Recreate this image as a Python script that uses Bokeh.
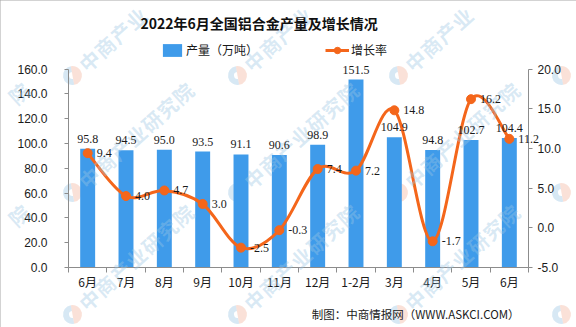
import math
import numpy as np
from bokeh.plotting import figure
from bokeh.models import (Range1d, LinearAxis, FixedTicker, NumeralTickFormatter,
                          ColumnDataSource, LabelSet, Label, Legend, LegendItem)
from bokeh.embed import file_html
from bokeh.resources import INLINE

months = ["6月", "7月", "8月", "9月", "10月", "11月", "12月", "1-2月", "3月", "4月", "5月", "6月"]
output = [95.8, 94.5, 95.0, 93.5, 91.1, 90.6, 98.9, 151.5, 104.9, 94.8, 102.7, 104.4]
growth = [9.4, 4.0, 4.7, 3.0, -2.5, -0.3, 7.4, 7.2, 14.8, -1.7, 16.2, 11.2]
left_ticks = [0, 20, 40, 60, 80, 100, 120, 140, 160]
right_ticks = [-5, 0, 5, 10, 15, 20]

BLUE = "#3F9BEA"
ORANGE = "#F4661B"
AXIS = "#8C8C8C"
NUM_FONT = "Liberation Sans"
CJK_FONT = "Noto Sans CJK SC"

W, H = 576, 327
AXES_LEFT = 68.0           # canvas x of the left axis
AXES_RIGHT = 528.0         # canvas x of the right axis
AXES_BOTTOM = 267.0        # canvas y of value 0 / -5
AXIS_PIX = 198.5           # pixel length of the 0..160 axis

xs = list(range(len(months)))
x0r, x1r = -0.5, len(months) - 0.5
lmin, lmax = left_ticks[0], left_ticks[-1]
rmin, rmax = right_ticks[0], right_ticks[-1]

# the frame covers the whole canvas; the axes are fixed inside it
xppu = (AXES_RIGHT - AXES_LEFT) / (x1r - x0r)
lppu = AXIS_PIX / (lmax - lmin)
rppu = AXIS_PIX / (rmax - rmin)

p = figure(width=W, height=H, output_backend="svg", toolbar_location=None,
           x_range=Range1d(x0r - AXES_LEFT / xppu, x0r + (W - AXES_LEFT) / xppu),
           y_range=Range1d(lmin - (H - AXES_BOTTOM) / lppu, lmin + AXES_BOTTOM / lppu),
           min_border_left=0, min_border_right=0, min_border_top=0, min_border_bottom=0,
           styles={"outline": "1px solid #A6A6A6", "outline-offset": "-1px"})
p.extra_y_ranges = {"g": Range1d(rmin - (H - AXES_BOTTOM) / rppu, rmin + AXES_BOTTOM / rppu)}
p.outline_line_color = None
p.grid.visible = False
p.background_fill_color = "white"
p.border_fill_color = "white"


def to_data(px, py):
    return x0r + (px - AXES_LEFT) / xppu, lmin + (AXES_BOTTOM - py) / lppu


# ---- watermark (decoration, drawn first); only whole characters are kept ----
WM_TEXT = "中商产业研究院"
WM_COLS = [-92, 72, 237, 398, 561]
WM_ROWS = [75, 192, 314]
WM_ANGLE = math.radians(42)
WM_FS = 20
WM_STEP = 21
WM_MARGIN = 12
ca, sa = math.cos(WM_ANGLE), math.sin(WM_ANGLE)
wm_x, wm_y = [], []
for cy in WM_ROWS:
    for cx in WM_COLS:
        dx, dy = to_data(cx, cy)
        wm_x.append(dx)
        wm_y.append(dy)
        for i, ch in enumerate(WM_TEXT):
            d = 12 + (i + 0.5) * WM_STEP
            px, py = cx + d * ca, cy - d * sa
            if WM_MARGIN <= px <= W - WM_MARGIN and WM_MARGIN <= py <= H - WM_MARGIN:
                p.add_layout(Label(x=px, y=H - py, x_units="screen", y_units="screen",
                                   text=ch, angle=WM_ANGLE, text_align="center",
                                   text_baseline="middle", text_font=CJK_FONT,
                                   text_font_size="%dpx" % WM_FS, text_font_style="bold",
                                   text_color="#9CC6E4", text_alpha=0.38))
p.annular_wedge(x=wm_x, y=wm_y, inner_radius=3.5, outer_radius=9.5,
                inner_radius_units="screen", outer_radius_units="screen",
                start_angle=math.radians(100), end_angle=math.radians(280),
                fill_color="#9CC6E4", fill_alpha=0.4, line_color=None)
p.annular_wedge(x=wm_x, y=wm_y, inner_radius=0, outer_radius=9.5,
                inner_radius_units="screen", outer_radius_units="screen",
                start_angle=math.radians(-80), end_angle=math.radians(100),
                fill_color="#F2A990", fill_alpha=0.35, line_color=None)

# x axis
xa = p.xaxis[0]
xa.fixed_location = lmin
xa.ticker = FixedTicker(ticks=xs, minor_ticks=[i - 0.5 for i in range(len(months) + 1)])
xa.bounds = (x0r, x1r)
xa.major_label_overrides = {i: m for i, m in enumerate(months)}
xa.major_tick_in = 0
xa.major_tick_out = 0
xa.minor_tick_in = 0
xa.minor_tick_out = 5
xa.minor_tick_line_color = AXIS
xa.axis_line_color = AXIS
xa.major_label_text_font = CJK_FONT
xa.major_label_text_font_size = "12px"
xa.major_label_text_color = "#1a1a1a"
xa.major_label_standoff = 0

# left axis
ya = p.yaxis[0]
ya.fixed_location = x0r
ya.ticker = FixedTicker(ticks=left_ticks, minor_ticks=[])
ya.formatter = NumeralTickFormatter(format="0.0")
ya.bounds = (lmin, lmax)
ya.major_tick_in = 0
ya.major_tick_out = 4
ya.major_tick_line_color = AXIS
ya.axis_line_color = AXIS
ya.major_label_text_font = NUM_FONT
ya.major_label_text_font_size = "12px"
ya.major_label_text_color = "#1a1a1a"
ya.major_label_standoff = 17

# right axis, fixed at the right end of the category range
ra = LinearAxis(y_range_name="g", ticker=FixedTicker(ticks=right_ticks, minor_ticks=[]),
                formatter=NumeralTickFormatter(format="0.0"), bounds=(rmin, rmax),
                fixed_location=x1r)
ra.major_tick_in = 0
ra.major_tick_out = 4
ra.major_tick_line_color = AXIS
ra.axis_line_color = AXIS
ra.major_label_text_font = NUM_FONT
ra.major_label_text_font_size = "12px"
ra.major_label_text_color = "#1a1a1a"
ra.major_label_standoff = 5
p.add_layout(ra, "right")

# bars
src = ColumnDataSource(dict(x=xs, out=output, g=growth,
                            out_lbl=["%.1f" % v for v in output],
                            g_lbl=["%.1f" % v for v in growth]))
bars = p.vbar(x="x", top="out", bottom=lmin, width=0.39, source=src,
              fill_color=BLUE, line_color=None)

# legend proxies (single point: draws nothing in the plot)
leg_line = p.line(x=xs[:1], y=growth[:1], line_color=ORANGE, line_width=3, y_range_name="g")
leg_dot = p.scatter(x=xs[:1], y=growth[:1], size=7, fill_color=ORANGE, line_color=ORANGE,
                    y_range_name="g")

# smooth growth line (Catmull-Rom bezier through the data points)
gx = np.array(xs, dtype=float)
gy = np.array(growth, dtype=float)
n = len(gx)
PX = np.concatenate([[gx[0]], gx, [gx[-1]]])
PY = np.concatenate([[gy[0]], gy, [gy[-1]]])
t = 1.0 / 6.0
bez = dict(
    x0=PX[1:n], y0=PY[1:n], x1=PX[2:n + 1], y1=PY[2:n + 1],
    cx0=PX[1:n] + (PX[2:n + 1] - PX[0:n - 1]) * t,
    cy0=PY[1:n] + (PY[2:n + 1] - PY[0:n - 1]) * t,
    cx1=PX[2:n + 1] - (PX[3:n + 2] - PX[1:n]) * t,
    cy1=PY[2:n + 1] - (PY[3:n + 2] - PY[1:n]) * t,
)
p.bezier(source=ColumnDataSource(bez), x0="x0", y0="y0", x1="x1", y1="y1",
         cx0="cx0", cy0="cy0", cx1="cx1", cy1="cy1",
         line_color=ORANGE, line_width=3, y_range_name="g")
p.scatter(x="x", y="g", source=src, size=9, fill_color=ORANGE, line_color=ORANGE,
          y_range_name="g")

# labels
p.add_layout(LabelSet(x="x", y="out", text="out_lbl", source=src, text_align="center",
                      text_baseline="bottom", y_offset=6, text_font=NUM_FONT,
                      text_font_size="12px", text_color="#1a1a1a"))
p.add_layout(LabelSet(x="x", y="g", text="g_lbl", source=src, y_range_name="g",
                      text_align="left", text_baseline="middle", x_offset=9,
                      text_font=NUM_FONT, text_font_size="12px", text_color="#1a1a1a"))

legend = Legend(items=[LegendItem(label="产量（万吨）", renderers=[bars]),
                       LegendItem(label="增长率", renderers=[leg_line, leg_dot])],
                location=(160, H - 58), orientation="horizontal",
                padding=0, margin=0, spacing=67, glyph_width=24, glyph_height=16,
                label_height=16, label_standoff=2, border_line_color=None,
                background_fill_alpha=0, label_text_font=CJK_FONT,
                label_text_font_size="12px", label_text_color="#1a1a1a")
p.add_layout(legend, "center")

p.add_layout(Label(x=140, y=H - 22, x_units="screen", y_units="screen",
                   text="2022年6月全国铝合金产量及增长情况", text_align="left",
                   text_baseline="middle", text_font=CJK_FONT, text_font_size="14px",
                   text_font_style="bold", text_color="#111111"))
p.add_layout(Label(x=519, y=H - 313, x_units="screen", y_units="screen",
                   text="制图：中商情报网（WWW.ASKCI.COM）", text_align="right",
                   text_baseline="middle", text_font=CJK_FONT, text_font_size="11.5px",
                   text_color="#1a1a1a"))

open("out.html", "w").write(file_html(p, INLINE))
